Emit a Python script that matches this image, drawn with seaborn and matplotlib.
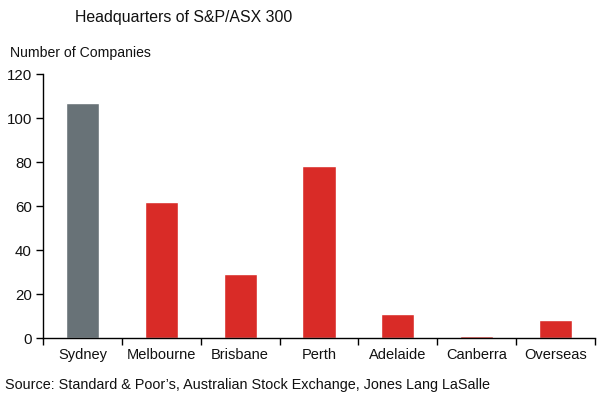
import matplotlib
matplotlib.use("Agg")
import matplotlib.pyplot as plt
import seaborn as sns
import pandas as pd
import numpy as np

cities = ["Sydney", "Melbourne", "Brisbane", "Perth", "Adelaide", "Canberra", "Overseas"]
companies = [107, 62, 29, 78, 11, 1, 8]
bar_colors = ["#687277", "#d92b27", "#d92b27", "#d92b27", "#d92b27", "#d92b27", "#d92b27"]
yticks = [0, 20, 40, 60, 80, 100, 120]

sns.set_theme(style="white")
plt.rcParams['font.family'] = ['Liberation Sans', 'DejaVu Sans']

df = pd.DataFrame({"city": cities, "n": companies})

fig = plt.figure(figsize=(6.16, 4.07), dpi=100)
ax = fig.add_axes([0.0698, 0.1695, 0.896, 0.6485])
sns.barplot(data=df, x="city", y="n", hue="city", palette=bar_colors, legend=False,
            width=0.42, ax=ax, saturation=1)

ax.set_xlim(-0.5, len(cities) - 0.5)
ax.set_ylim(0, 120)
ax.set_yticks(yticks)
ax.set_yticklabels([str(v) for v in yticks], fontsize=10.8)
ax.set_xlabel("")
ax.set_ylabel("")
ax.set_xticks(range(len(cities)))
ax.set_xticklabels(cities, fontsize=10.5)
ax.tick_params(axis="x", length=0, pad=7)
ax.tick_params(axis="y", direction="out", length=5, width=1, color="black", left=True, pad=3)
ax.set_xticks(np.arange(-0.5, len(cities) + 0.5, 1), minor=True)
ax.tick_params(axis="x", which="minor", direction="out", length=5, width=1, color="black", bottom=True)
for lab in ax.get_yticklabels() + ax.get_xticklabels():
    lab.set_color("#111111")
for s in ["top", "right"]:
    ax.spines[s].set_visible(False)
for s in ["left", "bottom"]:
    ax.spines[s].set_color("black")
    ax.spines[s].set_linewidth(1)

fig.text(0.122, 0.957, "Headquarters of S&P/ASX 300", fontsize=11.4, color="#111111", va="center", ha="left")
fig.text(0.016, 0.869, "Number of Companies", fontsize=10.1, color="#111111", va="center", ha="left")
fig.text(0.008, 0.054, "Source: Standard & Poor\u2019s, Australian Stock Exchange, Jones Lang LaSalle",
         fontsize=10.4, color="#111111", va="center", ha="left")

fig.savefig("out.png", dpi=100, facecolor="white")
